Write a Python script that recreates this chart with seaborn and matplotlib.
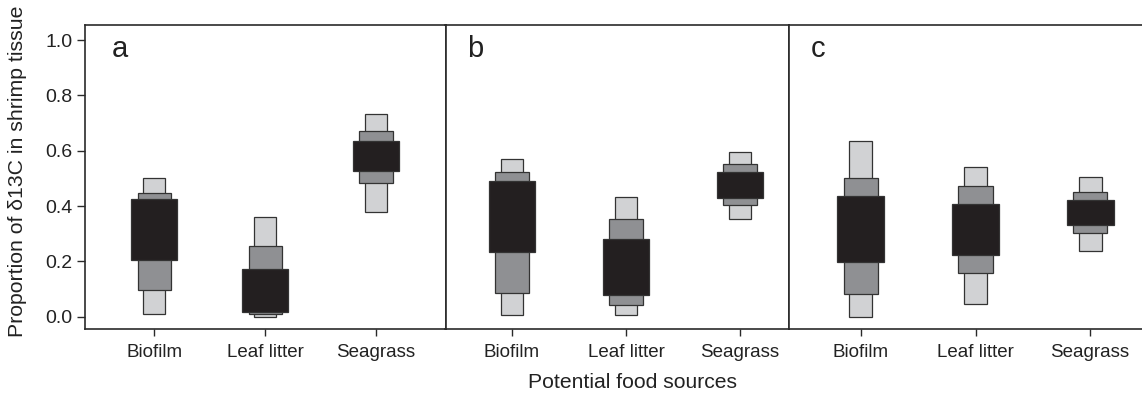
import matplotlib
matplotlib.use("Agg")
import matplotlib.pyplot as plt
import seaborn as sns
import pandas as pd
import numpy as np

sns.set_theme(style="white")
plt.rcParams["font.family"] = ["Liberation Sans", "DejaVu Sans"]

sources = ["Biofilm", "Leaf litter", "Seagrass"]
panel_labels = ["a", "b", "c"]
y_ticks = [0.0, 0.2, 0.4, 0.6, 0.8, 1.0]

# Credible intervals (low, high) per panel: 95 %, 75 %, 50 %
a_lo95 = [0.010, 0.000, 0.377]
a_hi95 = [0.500, 0.360, 0.734]
a_lo75 = [0.095, 0.008, 0.484]
a_hi75 = [0.446, 0.257, 0.670]
a_lo50 = [0.205, 0.018, 0.527]
a_hi50 = [0.424, 0.171, 0.635]

b_lo95 = [0.006, 0.004, 0.353]
b_hi95 = [0.571, 0.433, 0.596]
b_lo75 = [0.086, 0.043, 0.403]
b_hi75 = [0.522, 0.354, 0.551]
b_lo50 = [0.235, 0.078, 0.430]
b_hi50 = [0.490, 0.280, 0.522]

c_lo95 = [-0.002, 0.045, 0.237]
c_hi95 = [0.634, 0.542, 0.505]
c_lo75 = [0.083, 0.159, 0.302]
c_hi75 = [0.501, 0.473, 0.450]
c_lo50 = [0.198, 0.224, 0.331]
c_hi50 = [0.435, 0.406, 0.422]

panels = [
    (a_lo95, a_hi95, a_lo75, a_hi75, a_lo50, a_hi50),
    (b_lo95, b_hi95, b_lo75, b_hi75, b_lo50, b_hi50),
    (c_lo95, c_hi95, c_lo75, c_hi75, c_lo50, c_hi50),
]

colors = ["#d1d2d4", "#8f9093", "#231f20"]
widths = [0.20, 0.30, 0.41]

W, H = 1142, 399
fig = plt.figure(figsize=(W / 100, H / 100), dpi=100)

# pixel extents of the panels (left, right)
extents = [(85, 445.5), (445.5, 789), (789, 1160)]
xlims = [(-0.624, 2.626), (-0.584, 2.43), (-0.628, 2.61)]
top_px, bot_px = 25, 329
spine_col = "#2a2a2a"

for i, ((l, r), xl, vals) in enumerate(zip(extents, xlims, panels)):
    ax = fig.add_axes([l / W, 1 - bot_px / H, (r - l) / W, (bot_px - top_px) / H])
    for k in range(3):
        lo = np.array(vals[2 * k])
        hi = np.array(vals[2 * k + 1])
        df = pd.DataFrame({"source": sources, "span": hi - lo})
        sns.barplot(data=df, x="source", y="span", order=sources,
                    width=widths[k], color=colors[k], saturation=1,
                    errorbar=None, bottom=lo, edgecolor="#333333",
                    linewidth=0.9, ax=ax)
    ax.set_xlim(*xl)
    ax.set_ylim(-0.045, 1.055)
    ax.set_xlabel("")
    ax.set_ylabel("")
    ax.set_xticks(range(3))
    ax.set_xticklabels(sources, fontsize=13.5, color="#222222")
    ax.tick_params(axis="x", length=5, width=1, color=spine_col, pad=6,
                   bottom=True, direction="out")
    for s in ["top", "bottom", "left", "right"]:
        ax.spines[s].set_color(spine_col)
        ax.spines[s].set_linewidth(1.2)
    if i == 0:
        ax.set_yticks(y_ticks)
        ax.set_yticklabels([f"{v:.1f}" for v in y_ticks], fontsize=14,
                           color="#222222")
        ax.tick_params(axis="y", length=6, width=1, color=spine_col, pad=3,
                       left=True, direction="out")
        ax.set_ylabel("Proportion of δ13C in shrimp tissue", fontsize=15.3,
                      color="#222222")
        ax.yaxis.label.set_va("center")
        ax.yaxis.set_label_coords((18 - l) / (r - l), (bot_px - 171) / (bot_px - top_px))
    else:
        ax.set_yticks([])
    if i == 2:
        ax.spines["right"].set_visible(False)
    off = [27, 22, 22][i]
    ax.text(off / (r - l), 0.896, panel_labels[i], transform=ax.transAxes,
            fontsize=21, color="#222222", va="baseline", ha="left")

fig.text(633 / W, 1 - 383 / H, "Potential food sources", fontsize=15.2,
         color="#222222", ha="center", va="center")

fig.savefig("out.png", dpi=100)
